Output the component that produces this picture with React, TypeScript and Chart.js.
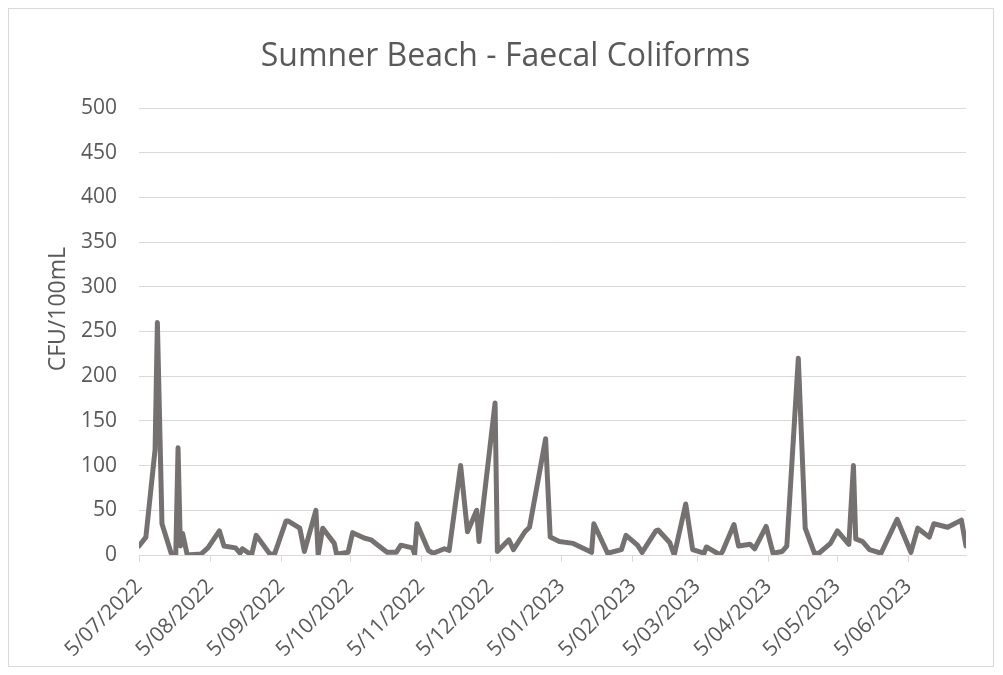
import React, { useEffect, useRef } from "react";
import { Chart, registerables } from "chart.js";

Chart.register(...registerables);

const chartTitle = "Sumner Beach - Faecal Coliforms";
const yAxisTitle = "CFU/100mL";

const sampleDates: string[] = [
  "2022-07-05", "2022-07-08", "2022-07-12", "2022-07-13", "2022-07-15", "2022-07-19", "2022-07-21", "2022-07-22",
  "2022-07-23", "2022-07-24", "2022-07-26", "2022-08-01", "2022-08-04", "2022-08-09", "2022-08-11", "2022-08-16",
  "2022-08-18", "2022-08-19", "2022-08-23", "2022-08-25", "2022-08-31", "2022-09-02", "2022-09-07", "2022-09-08",
  "2022-09-13", "2022-09-15", "2022-09-20", "2022-09-21", "2022-09-23", "2022-09-28", "2022-09-29", "2022-10-04",
  "2022-10-06", "2022-10-11", "2022-10-14", "2022-10-17", "2022-10-21", "2022-10-25", "2022-10-27", "2022-11-01",
  "2022-11-02", "2022-11-03", "2022-11-08", "2022-11-10", "2022-11-15", "2022-11-17", "2022-11-22", "2022-11-25",
  "2022-11-29", "2022-11-30", "2022-12-07", "2022-12-08", "2022-12-13", "2022-12-15", "2022-12-20", "2022-12-22",
  "2022-12-29", "2022-12-31", "2023-01-04", "2023-01-10", "2023-01-18", "2023-01-19", "2023-01-25", "2023-01-31",
  "2023-02-02", "2023-02-07", "2023-02-09", "2023-02-15", "2023-02-16", "2023-02-21", "2023-02-23", "2023-02-28",
  "2023-03-03", "2023-03-08", "2023-03-09", "2023-03-15", "2023-03-16", "2023-03-21", "2023-03-23", "2023-03-28",
  "2023-03-30", "2023-04-04", "2023-04-07", "2023-04-11", "2023-04-13", "2023-04-18", "2023-04-21", "2023-04-25",
  "2023-04-27", "2023-05-02", "2023-05-05", "2023-05-10", "2023-05-12", "2023-05-13", "2023-05-16", "2023-05-19",
  "2023-05-24", "2023-05-31", "2023-06-06", "2023-06-09", "2023-06-14", "2023-06-16", "2023-06-22", "2023-06-28",
  "2023-06-30",
];

const faecalColiforms: number[] = [
  10, 20, 118, 260, 35, 2, 0, 120,
  10, 24, 0, 1, 8, 27, 10, 8,
  2, 7, 0, 22, 1, 1, 38, 38,
  30, 4, 50, 0, 30, 13, 1, 3,
  25, 19, 17, 11, 3, 3, 11, 8,
  1, 35, 5, 2, 7, 5, 100, 26,
  50, 15, 170, 4, 17, 6, 26, 31,
  130, 20, 15, 13, 3, 35, 2, 6,
  22, 11, 3, 27, 28, 14, 0, 57,
  6, 2, 9, 0, 4, 34, 10, 12,
  7, 32, 2, 4, 10, 220, 30, 2,
  2, 13, 27, 12, 100, 18, 15, 6,
  2, 40, 3, 30, 20, 35, 31, 39,
  10,
];

const tickLabels: string[] = [
  "5/07/2022", "5/08/2022", "5/09/2022", "5/10/2022", "5/11/2022", "5/12/2022",
  "5/01/2023", "5/02/2023", "5/03/2023", "5/04/2023", "5/05/2023", "5/06/2023",
];

const yTicks: number[] = [0, 50, 100, 150, 200, 250, 300, 350, 400, 450, 500];

const DAY = 86400000;
const startMs = Date.parse(sampleDates[0]);
const toDay = (iso: string) => Math.round((Date.parse(iso) - startMs) / DAY);
const labelToIso = (s: string) => {
  const [d, m, y] = s.split("/");
  return `${y}-${m.padStart(2, "0")}-${d.padStart(2, "0")}`;
};
const tickDays = tickLabels.map((l) => toDay(labelToIso(l)));

const textColor = "#595959";
const gridColor = "#d9d9d9";
const lineColor = "#767171";
const fontFamily = "'Open Sans', 'Noto Sans', sans-serif";

const yTitlePlugin = {
  id: "yTitleText",
  afterDraw(chart: any) {
    const { ctx, chartArea } = chart;
    ctx.save();
    ctx.fillStyle = textColor;
    ctx.font = `23px ${fontFamily}`;
    ctx.textAlign = "center";
    ctx.textBaseline = "middle";
    ctx.translate(58, chartArea.top + (chartArea.bottom - chartArea.top) * 0.45);
    ctx.rotate(-Math.PI / 2);
    ctx.fillText(yAxisTitle, 0, 0);
    ctx.restore();
  },
};

export default function App() {
  const canvasRef = useRef<HTMLCanvasElement | null>(null);

  useEffect(() => {
    const canvas = canvasRef.current;
    if (!canvas) return;
    const points = sampleDates.map((d, i) => ({ x: toDay(d), y: faecalColiforms[i] }));
    const lastDay = toDay(sampleDates[sampleDates.length - 1]);

    const chart = new Chart(canvas, {
      type: "line",
      data: {
        datasets: [
          {
            label: "Faecal Coliforms",
            data: points,
            borderColor: lineColor,
            backgroundColor: lineColor,
            borderWidth: 5,
            pointRadius: 0,
            tension: 0,
            borderJoinStyle: "round",
            borderCapStyle: "round",
            fill: false,
          },
        ],
      },
      options: {
        animation: false,
        responsive: false,
        maintainAspectRatio: false,
        events: [],
        layout: { padding: { left: 45, right: 37, top: 0, bottom: 0 } },
        plugins: {
          legend: { display: false },
          tooltip: { enabled: false },
          title: {
            display: true,
            text: chartTitle,
            color: textColor,
            font: { family: fontFamily, size: 32, weight: "normal" },
            padding: { top: 38, bottom: 31.6 },
          },
        },
        scales: {
          x: {
            type: "linear",
            min: 0,
            max: lastDay,
            afterBuildTicks: (scale: any) => {
              scale.ticks = tickDays.map((v) => ({ value: v }));
            },
            afterFit: (scale: any) => {
              scale.height = 120;
            },
            ticks: {
              autoSkip: false,
              minRotation: 45,
              maxRotation: 45,
              padding: 12,
              color: textColor,
              font: { family: fontFamily, size: 21 },
              callback: (value: any) => {
                const idx = tickDays.indexOf(Number(value));
                return idx >= 0 ? tickLabels[idx] : "";
              },
            },
            grid: {
              display: true,
              drawOnChartArea: false,
              drawTicks: true,
              tickLength: 7,
              color: gridColor,
              lineWidth: 1,
            },
            border: { display: true, color: gridColor, width: 1 },
          },
          y: {
            type: "linear",
            min: 0,
            max: 500,
            afterBuildTicks: (scale: any) => {
              scale.ticks = yTicks.map((v) => ({ value: v }));
            },
            afterFit: (scale: any) => {
              scale.width = 94;
            },
            ticks: {
              padding: 22,
              color: textColor,
              font: { family: fontFamily, size: 21 },
            },
            grid: {
              color: gridColor,
              lineWidth: 1,
              drawTicks: false,
            },
            border: { display: false },
          },
        },
      },
      plugins: [yTitlePlugin],
    });
    return () => chart.destroy();
  }, []);

  return (
    <div style={{ position: "absolute", left: 0, top: 0, width: 1003, height: 675, background: "#fff" }}>
      <div
        style={{
          position: "absolute",
          left: 8,
          top: 8,
          width: 986,
          height: 659,
          border: `1px solid ${gridColor}`,
          boxSizing: "border-box",
        }}
      />
      <canvas
        ref={canvasRef}
        width={1003}
        height={675}
        style={{ position: "absolute", left: 0, top: 0, width: 1003, height: 675 }}
      />
    </div>
  );
}
